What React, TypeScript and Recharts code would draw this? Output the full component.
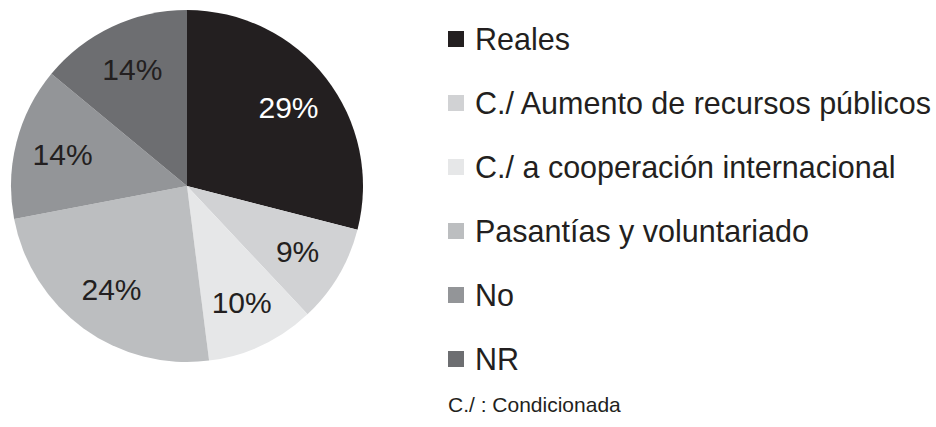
import React from "react";
import { PieChart, Pie, Cell, Legend } from "recharts";

const categories = [
  "Reales",
  "C./ Aumento de recursos públicos",
  "C./ a cooperación internacional",
  "Pasantías y voluntariado",
  "No",
  "NR",
];
const values = [29, 9, 10, 24, 14, 14];
const colors = ["#231f20", "#d1d2d4", "#e6e7e8", "#bcbec0", "#939598", "#6d6e71"];
const labelColors = ["#ffffff", "#231f20", "#231f20", "#231f20", "#231f20", "#231f20"];
const footnote = "C./ : Condicionada";

const data = categories.map((name, i) => ({ name, value: values[i] }));

const FONT = "'Liberation Sans', Arial, Helvetica, sans-serif";
const RAD = Math.PI / 180;

const renderLabel = (props: any) => {
  const { cx, cy, midAngle, outerRadius, index, value } = props;
  const r = outerRadius * 0.73;
  const x = cx + r * Math.cos(-midAngle * RAD);
  const y = cy + r * Math.sin(-midAngle * RAD);
  return (
    <text
      x={x}
      y={y}
      fill={labelColors[index]}
      textAnchor="middle"
      dominantBaseline="central"
      fontSize={30}
      fontFamily={FONT}
    >
      {`${value}%`}
    </text>
  );
};

const renderLegend = () => (
  <div style={{ fontFamily: FONT, color: "#231f20" }}>
    {categories.map((c, i) => (
      <div
        key={c}
        style={{ display: "flex", alignItems: "center", height: 64, whiteSpace: "nowrap" }}
      >
        <span
          style={{
            display: "inline-block",
            width: 16,
            height: 16,
            background: colors[i],
            marginRight: 11,
            flexShrink: 0,
          }}
        />
        <span style={{ fontSize: 30.5, lineHeight: "35px" }}>{c}</span>
      </div>
    ))}
    <div style={{ fontSize: 21, lineHeight: "24px", marginTop: 2, whiteSpace: "nowrap" }}>{footnote}</div>
  </div>
);

export default function App() {
  return (
    <div style={{ position: "absolute", left: 0, top: 0, width: 936, height: 427, background: "#fff" }}>
      <PieChart width={936} height={427} margin={{ top: 0, right: 0, bottom: 0, left: 0 }}>
        <Pie
          data={data}
          dataKey="value"
          nameKey="name"
          cx={187}
          cy={186}
          outerRadius={176}
          startAngle={90}
          endAngle={-270}
          stroke="none"
          label={renderLabel}
          labelLine={false}
          isAnimationActive={false}
        >
          {data.map((d, i) => (
            <Cell key={d.name} fill={colors[i]} />
          ))}
        </Pie>
        <Legend
          content={renderLegend}
          layout="vertical"
          verticalAlign="top"
          align="right"
          wrapperStyle={{ position: "absolute", left: 448, top: 7, width: 488 }}
        />
      </PieChart>
    </div>
  );
}
